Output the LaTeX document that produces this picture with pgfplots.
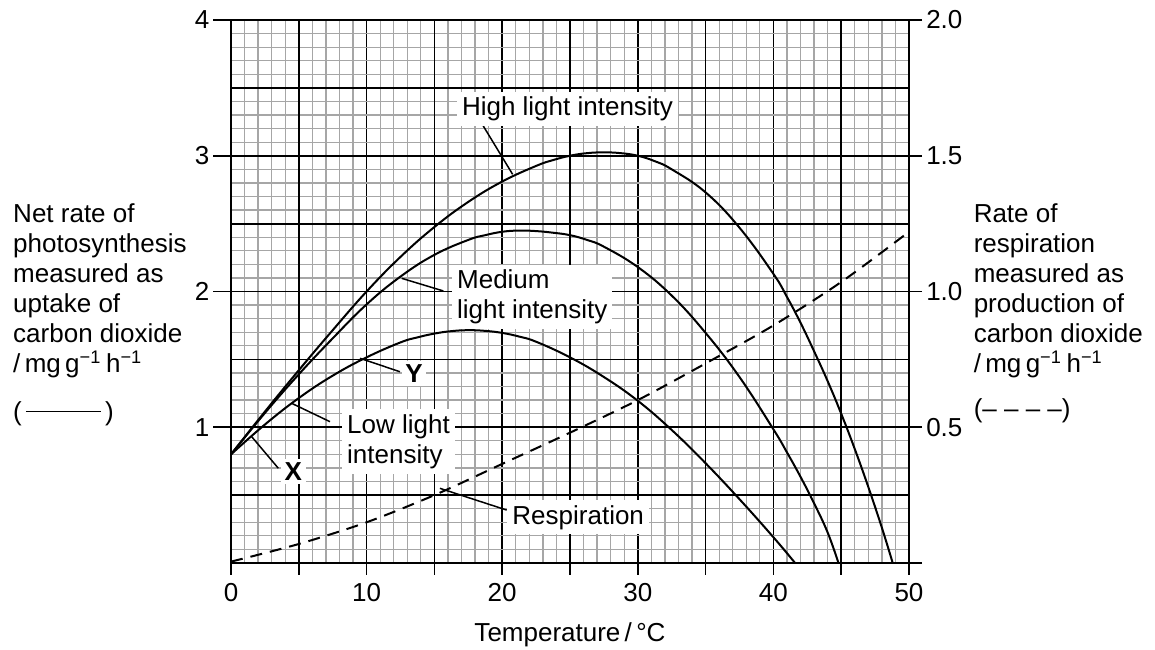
\documentclass[border=0pt]{standalone}
\usepackage{fontspec}
\setmainfont{Liberation Sans}
\usepackage{pgfplots}
\pgfplotsset{compat=1.18}

% light intensity curves (left axis)
\pgfplotstableread{
T v
0 0.80
2.5 1.115
5 1.42
7.5 1.715
10 2.00
12.5 2.255
15 2.475
17.5 2.66
20 2.81
22.5 2.925
23.75 2.968
25 3.00
26.25 3.019
27.5 3.025
28.75 3.019
30 3.00
31.25 2.96
32.5 2.90
35 2.73
37.5 2.47
40 2.13
41 1.96
42 1.77
43 1.56
44 1.34
45 1.10
46 0.84
47 0.56
48 0.26
48.8 0
}\highdata
\pgfplotstableread{
T v
0 0.80
2.5 1.105
5 1.39
7.5 1.655
10 1.905
12.5 2.11
15 2.27
17.5 2.38
18.75 2.415
20 2.44
21.25 2.449
22.5 2.445
23.75 2.433
25 2.415
26.25 2.38
27.5 2.33
30 2.18
32.5 1.97
35 1.695
37.5 1.37
40 0.985
41 0.815
42 0.635
43 0.44
44 0.225
44.8 0
}\meddata
\pgfplotstableread{
T v
0 0.80
2.5 1.02
5 1.215
7.5 1.38
10 1.515
12.5 1.625
13.75 1.662
15 1.69
16.25 1.708
17.5 1.715
18.75 1.71
20 1.695
21.25 1.668
22.5 1.63
25 1.515
27.5 1.37
30 1.195
32.5 0.98
35 0.735
37.5 0.47
40 0.19
41.6 0
}\lowdata
% respiration (right axis)
\pgfplotstableread{
T r
0 0.005
5 0.07
10 0.15
15 0.25
20 0.365
25 0.48
30 0.60
35 0.735
40 0.875
45 1.035
50 1.22
}\respdata

\begin{document}
\begin{tikzpicture}[font=\fontsize{10.4}{12}\selectfont]
\useasboundingbox (-92.4pt,-34.4pt) rectangle (369.6pt,225.2pt);
\begin{axis}[
  scale only axis, width=271.2pt, height=217.2pt,
  xmin=0, xmax=50, ymin=0, ymax=4,
  xtick={0,10,...,50}, ytick={1,2,3,4},
  minor xtick={0,1,...,50}, minor ytick={0,0.1,...,4},
  extra x ticks={5,15,25,35,45}, extra x tick labels={},
  extra y ticks={0.5,1.5,2.5,3.5}, extra y tick labels={},
  extra tick style={grid=major, major tick length=0pt},
  grid=both,
  major grid style={black, line width=0.7pt},
  minor grid style={black!35, line width=0.5pt},
  axis line style={black, line width=0.8pt},
  tick style={black, line width=0.7pt},
  minor tick length=0pt,
  major tick length=7pt,
  xtick style={/pgfplots/major tick length=4.6pt},
  tick align=outside,
  xtick pos=left, ytick pos=left,
  xticklabel style={inner sep=1pt},
  yticklabel style={inner sep=1.5pt},
  /pgf/number format/assume math mode=true,
  xlabel={Temperature\,/\,°C},
  x label style={at={(axis description cs:0.5,0)}, anchor=base, yshift=-31.2pt},
]
\addplot[black, line width=0.8pt, smooth, tension=0.7] table[x=T, y=v] {\highdata};
\addplot[black, line width=0.8pt, smooth, tension=0.7] table[x=T, y=v] {\meddata};
\addplot[black, line width=0.8pt, smooth, tension=0.7] table[x=T, y=v] {\lowdata};

% leader lines
\draw[line width=0.6pt] (axis cs:18.6,3.22) -- (axis cs:20.77,2.863);
\draw[line width=0.6pt] (axis cs:12.59,2.097) -- (axis cs:15.66,2.004);
\draw[line width=0.6pt] (axis cs:9.51,1.508) -- (axis cs:12.46,1.409);
\draw[line width=0.6pt] (axis cs:4.48,1.176) -- (axis cs:7.30,1.041);
\draw[line width=0.6pt] (axis cs:1.53,0.930) -- (axis cs:3.49,0.698);
\draw[line width=0.6pt] (axis cs:15.41,0.55) -- (axis cs:20.33,0.39);

\node[fill=white, inner sep=2pt, anchor=base west, xshift=-2pt] at (axis cs:17.0,3.295) {High light intensity};
\node[fill=white, inner sep=2pt, align=left, anchor=north west, xshift=-2pt] at (axis cs:16.64,2.20) {Medium\\light intensity};
\node[fill=white, inner sep=2pt, align=left, anchor=north west, xshift=-2pt] at (axis cs:8.53,1.135) {Low light\\intensity};
\node[fill=white, inner sep=1.5pt, font=\fontsize{10.4}{12}\selectfont\bfseries] at (axis cs:13.5,1.397) {Y};
\node[fill=white, inner sep=1.5pt, font=\fontsize{10.4}{12}\selectfont\bfseries] at (axis cs:4.6,0.673) {X};
\node[fill=white, inner sep=2pt, anchor=base west, xshift=-2pt] at (axis cs:20.72,0.287) {Respiration};
\end{axis}

\begin{axis}[
  scale only axis, width=271.2pt, height=217.2pt,
  xmin=0, xmax=50, ymin=0, ymax=2,
  axis x line=none, axis y line*=right,
  ytick={0,0.5,1,1.5,2}, yticklabels={,0.5,1.0,1.5,2.0},
  axis line style={black, line width=0.8pt},
  tick style={black, line width=0.7pt},
  major tick length=5.2pt,
  tick align=outside,
  yticklabel style={inner sep=1.5pt},
]
\addplot[black, line width=0.8pt, smooth, dash pattern=on 4.8pt off 3.2pt] table[x=T, y=r] {\respdata};
\end{axis}

\node[anchor=north west, align=left, inner sep=0] at (-87.3pt,143.9pt)
  {Net rate of\\photosynthesis\\measured as\\uptake of\\carbon dioxide\\/\,mg\,g\textsuperscript{−1}\,h\textsuperscript{−1}};
\node[anchor=base west, inner sep=0] at (-87.3pt,57.2pt)
  {(\hspace{0.15em}\rule[0.3em]{2.9em}{0.5pt}\hspace{0.15em})};
\node[anchor=north west, align=left, inner sep=0] at (296.9pt,143.9pt)
  {Rate of\\respiration\\measured as\\production of\\carbon dioxide\\/\,mg\,g\textsuperscript{−1}\,h\textsuperscript{−1}};
\node[anchor=base west, inner sep=0] at (296.9pt,58.4pt) {(– – – –)};
\end{tikzpicture}
\end{document}
